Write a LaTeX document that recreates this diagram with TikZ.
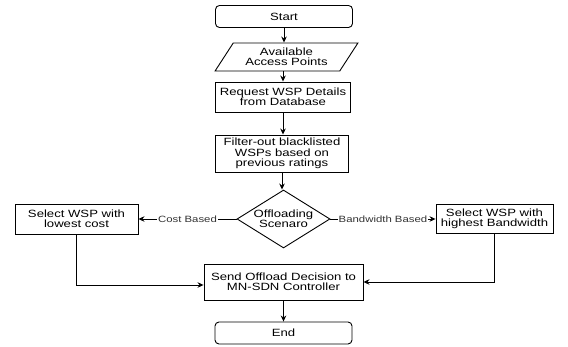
\documentclass[tikz,border=0pt]{standalone}
\usepackage{fontspec}
\setmainfont[FakeStretch=1.25]{Liberation Sans}
\usetikzlibrary{shapes.geometric,arrows.meta,calc}
\begin{document}
\begin{tikzpicture}[x=1pt,y=1pt,
  box/.style={draw,line width=0.9pt,align=center,inner sep=1pt,font=\fontsize{10.5}{10.5}\selectfont},
  term/.style={box,rounded corners=4pt},
  decision/.style={box,diamond,aspect=1.6,inner sep=0pt},
  io/.style={box,trapezium,trapezium left angle=54.5,trapezium right angle=125.5,trapezium stretches=true},
  arr/.style={line width=0.9pt,-{Stealth[length=6pt,width=5.5pt]}},
  lbl/.style={fill=white,inner sep=1pt,text=black!80,font=\fontsize{9.1}{10}\selectfont}]
\useasboundingbox (0,0) rectangle (568,347);
\node[term,minimum width=137,minimum height=22] (start) at (284,330.5) {Start};
\node[io,minimum width=143,minimum height=28] (avail) at (286.5,290) {Available\\Access Points};
\node[box,minimum width=135,minimum height=30] (req) at (283,250) {Request WSP Details\\from Database};
\node[box,minimum width=133,minimum height=37] (filt) at (282,193.5) {Filter-out blacklisted\\WSPs based on\\previous ratings};
\node[decision,minimum width=93,minimum height=58] (dec) at (283.5,128) {Offloading\\Scenaro};
\node[box,minimum width=123,minimum height=30] (low) at (76.5,128) {Select WSP with\\lowest cost};
\node[box,minimum width=117,minimum height=29] (high) at (494.5,128) {Select WSP with\\highest Bandwidth};
\node[box,minimum width=159,minimum height=36] (send) at (283.5,65) {Send Offload Decision to\\MN-SDN Controller};
\node[term,minimum width=137,minimum height=22] (end) at (283.5,14) {End};
\draw[arr] (start.south) -- (start.south |- avail.north);
\draw[arr] (req.north |- avail.south) -- (req.north);
\draw[arr] (req.south) -- (req.south |- filt.north);
\draw[arr] (filt.south) -- (filt.south |- dec.north);
\draw[arr] (dec.west) -- node[lbl] {Cost Based} (low.east);
\draw[arr] (dec.east) -- node[lbl] {Bandwidth Based} (high.west);
\draw[arr] (low.south) |- ($(send.west)+(0,-3)$);
\draw[arr] (high.south) |- (send.east);
\draw[arr] (send.south) -- (send.south |- end.north);
\end{tikzpicture}
\end{document}
